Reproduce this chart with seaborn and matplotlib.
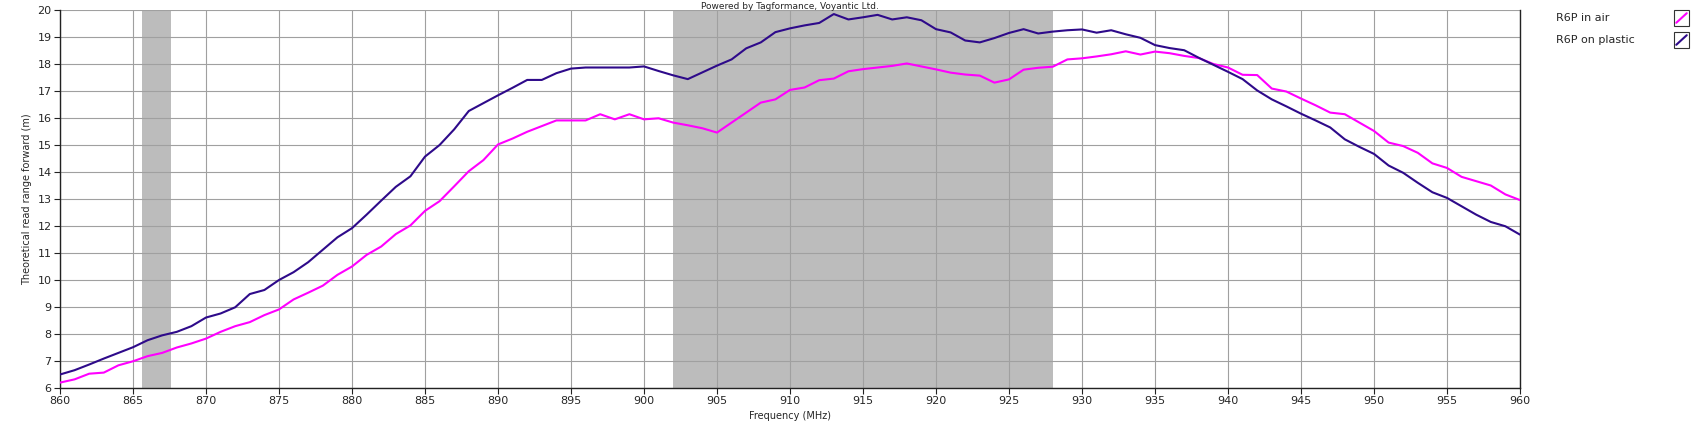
import numpy as np
import pandas as pd
import matplotlib
matplotlib.use('Agg')
import matplotlib.pyplot as plt
from matplotlib.patches import Rectangle
from matplotlib.lines import Line2D
import seaborn as sns

# Frequencies 860..960 MHz in 1 MHz steps
freq = list(range(860, 961))

# Read range (m)
range_air = [
    6.20, 6.32, 6.53, 6.57, 6.84, 6.99, 7.18, 7.30, 7.50, 7.65,
    7.83, 8.08, 8.29, 8.44, 8.70, 8.91, 9.28, 9.53, 9.79, 10.19,
    10.50, 10.93, 11.24, 11.70, 12.02, 12.56, 12.92, 13.47, 14.03, 14.44,
    15.02, 15.24, 15.49, 15.70, 15.91, 15.91, 15.91, 16.14, 15.95, 16.14,
    15.95, 15.99, 15.83, 15.73, 15.62, 15.46, 15.83, 16.20, 16.57, 16.69,
    17.04, 17.13, 17.40, 17.46, 17.73, 17.81, 17.87, 17.93, 18.02, 17.91,
    17.80, 17.68, 17.61, 17.57, 17.31, 17.43, 17.79, 17.86, 17.90, 18.17,
    18.21, 18.28, 18.36, 18.47, 18.35, 18.46, 18.40, 18.30, 18.22, 18.00,
    17.87, 17.60, 17.59, 17.09, 16.98, 16.72, 16.47, 16.20, 16.14, 15.83,
    15.52, 15.09, 14.96, 14.71, 14.32, 14.15, 13.82, 13.66, 13.50, 13.17,
    12.96,
]
range_plastic = [
    6.50, 6.66, 6.87, 7.09, 7.30, 7.51, 7.77, 7.95, 8.08, 8.29,
    8.61, 8.76, 8.99, 9.48, 9.63, 10.00, 10.29, 10.66, 11.12, 11.58,
    11.92, 12.42, 12.94, 13.45, 13.84, 14.57, 15.00, 15.58, 16.26, 16.55,
    16.84, 17.12, 17.41, 17.41, 17.66, 17.83, 17.87, 17.87, 17.87, 17.87,
    17.91, 17.74, 17.58, 17.44, 17.69, 17.94, 18.17, 18.58, 18.80, 19.18,
    19.32, 19.43, 19.52, 19.85, 19.65, 19.73, 19.82, 19.65, 19.73, 19.62,
    19.29, 19.17, 18.87, 18.80, 18.96, 19.15, 19.29, 19.13, 19.20, 19.25,
    19.28, 19.16, 19.25, 19.10, 18.97, 18.70, 18.59, 18.51, 18.23, 17.97,
    17.71, 17.44, 17.02, 16.69, 16.43, 16.16, 15.91, 15.65, 15.21, 14.93,
    14.67, 14.24, 13.97, 13.60, 13.25, 13.04, 12.73, 12.42, 12.15, 11.99,
    11.68,
]

series_names = ['R6P in air', 'R6P on plastic']
series_colors = ['#ff00ff', '#2e0a8a']

# Shaded frequency bands (MHz)
band_starts = [865.6, 902.0]
band_ends = [867.6, 928.0]

df = pd.concat([
    pd.DataFrame({'freq': freq, 'range': range_air, 'tag': series_names[0]}),
    pd.DataFrame({'freq': freq, 'range': range_plastic, 'tag': series_names[1]}),
])

sns.set_style('white')
plt.rcParams['font.family'] = ['DejaVu Sans']

fig = plt.figure(figsize=(17.04, 4.40), dpi=100)
ax = fig.add_axes([60 / 1704, 52 / 440, 1460 / 1704, 378 / 440])

for s, e in zip(band_starts, band_ends):
    ax.axvspan(s, e, color='#bcbcbc', lw=0, zorder=0)

sns.lineplot(data=df, x='freq', y='range', hue='tag', palette=series_colors,
             linewidth=1.5, legend=False, ax=ax, zorder=3)

ax.set_xlim(860, 960)
ax.set_ylim(6, 20)
ax.set_xticks(np.arange(860, 961, 5))
ax.set_yticks(np.arange(6, 21, 1))
ax.grid(True, color='#a0a0a0', linewidth=0.8, zorder=1)
for gl in ax.get_xgridlines() + ax.get_ygridlines():
    gl.set_zorder(1)

ax.tick_params(axis='both', direction='out', length=4, width=0.8,
               color='#222222', labelsize=8, pad=2, bottom=True, left=True)
ax.spines['top'].set_visible(False)
for sp in ['left', 'bottom', 'right']:
    ax.spines[sp].set_color('#222222')
    ax.spines[sp].set_linewidth(1.0)

ax.set_xlabel('Frequency (MHz)', fontsize=7, labelpad=3)
ax.set_ylabel('Theoretical read range forward (m)', fontsize=7, labelpad=4)
ax.set_title('Powered by Tagformance, Voyantic Ltd.', fontsize=6.5, pad=1)

# Legend on the right: label text, then a boxed swatch
for i, (name, col) in enumerate(zip(series_names, series_colors)):
    yc = 1 - (18 + 22 * i) / 440
    fig.text(1556 / 1704, yc, name, fontsize=8, va='center', ha='left')
    bx, by, bw, bh = 1674 / 1704, yc - 8 / 440, 15 / 1704, 16 / 440
    fig.add_artist(Rectangle((bx, by), bw, bh, transform=fig.transFigure,
                             facecolor='white', edgecolor='#333333', lw=0.8))
    fig.add_artist(Line2D([bx + 0.15 * bw, bx + 0.85 * bw],
                          [by + 0.2 * bh, by + 0.8 * bh],
                          transform=fig.transFigure, color=col, lw=1.5))

fig.savefig('out.png', dpi=100)
